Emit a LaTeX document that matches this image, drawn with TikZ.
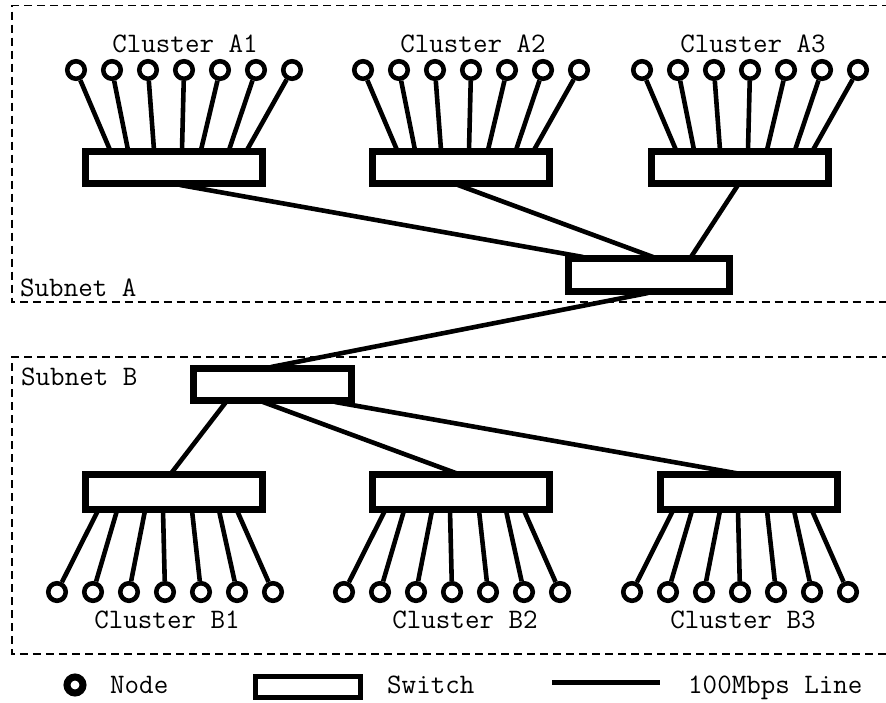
\documentclass[tikz,border=0pt]{standalone}
\usepackage{fontspec}
\begin{document}
\begin{tikzpicture}[x=1pt,y=-1pt,
  sw/.style={draw,line width=4.6pt,minimum width=175.4pt,minimum height=30.4pt,inner sep=0pt,fill=white},
  swb/.style={sw,minimum height=32.4pt},
  pc/.style={circle,draw,line width=4.6pt,minimum size=17.5pt,inner sep=0pt,fill=white},
  link/.style={line width=4.6pt},
  lbl/.style={font=\ttfamily\fontsize{28.2}{30}\selectfont,inner sep=0pt},
  subnet/.style={line width=1.2pt,dash pattern=on 8pt off 5pt}]
\useasboundingbox (0,0) rectangle (886,702);
% subnet borders
\draw[subnet] (890,5.5) -- (12,5.5) -- (12,302) -- (890,302);
\draw[subnet] (890,357) -- (12,357) -- (12,654) -- (890,654);
\node[lbl,anchor=base west] (subA) at (20,296) {Subnet A};
\node[lbl,anchor=base west] (subB) at (21,385) {Subnet B};
% cluster A
\foreach \nm/\L/\tx/\lab in {A1/84/185/Cluster A1, A2/371/473/Cluster A2, A3/650/753/Cluster A3} {
  \node[sw] (s\nm) at (\L+90,167.5) {};
  \node[lbl,anchor=base] (t\nm) at (\tx,52) {\lab};
  \foreach \k/\off in {0/26,1/44,2/70,3/98,4/117,5/145,6/163} {
    \node[pc] (n\nm-\k) at (\L-8+36*\k,70) {};
    \draw[link] (n\nm-\k) -- ([xshift=\off pt]s\nm.north west);
  }
}
% cluster B
\foreach \nm/\L/\tx/\lab in {B1/84/167/Cluster B1, B2/371/465/Cluster B2, B3/659/743/Cluster B3} {
  \node[swb] (s\nm) at (\L+90,492) {};
  \node[lbl,anchor=base] (t\nm) at (\tx,628) {\lab};
  \foreach \k/\off in {0/14,1/33,2/61,3/79,4/108,5/135,6/153} {
    \node[pc] (n\nm-\k) at (\L-27+36*\k,592) {};
    \draw[link] (n\nm-\k) -- ([xshift=\off pt]s\nm.south west);
  }
}
% core switches
\node[sw,minimum width=159.4pt,minimum height=31.4pt] (SA) at (649,275) {};
\node[sw,minimum width=156.4pt,minimum height=30.4pt] (SB) at (272.5,384.5) {};
\draw[link] ([xshift=96pt]sA1.south west) -- ([xshift=16pt]SA.north west);
\draw[link] ([xshift=87pt]sA2.south west) -- ([xshift=86pt]SA.north west);
\draw[link] ([xshift=88pt]sA3.south west) -- ([xshift=124pt]SA.north west);
\draw[link] ([xshift=81pt]SA.south west) -- ([xshift=79pt]SB.north west);
\draw[link] ([xshift=34pt]SB.south west) -- ([xshift=87pt]sB1.north west);
\draw[link] ([xshift=71pt]SB.south west) -- ([xshift=86pt]sB2.north west);
\draw[link] ([xshift=143pt]SB.south west) -- ([xshift=79pt]sB3.north west);
% redraw switch outlines on top
\foreach \s in {SA,SB,sA1,sA2,sA3,sB1,sB2,sB3} {
  \draw[line width=4.6pt] (\s.north west) rectangle (\s.south east);
}
% legend
\node[circle,draw,line width=7pt,minimum size=16pt,inner sep=0pt] (legN) at (75,685) {};
\node[lbl,anchor=base west] (legNt) at (110,693) {Node};
\node[draw,line width=5pt,minimum width=105pt,minimum height=21pt,inner sep=0pt] (legS) at (308,687) {};
\node[lbl,anchor=base west] (legSt) at (387,693) {Switch};
\coordinate (legL1) at (552,682);
\coordinate (legL2) at (660,682);
\draw[line width=5pt] (legL1) -- (legL2);
\node[lbl,anchor=base west] (legLt) at (688,693) {100Mbps Line};
\end{tikzpicture}
\end{document}
